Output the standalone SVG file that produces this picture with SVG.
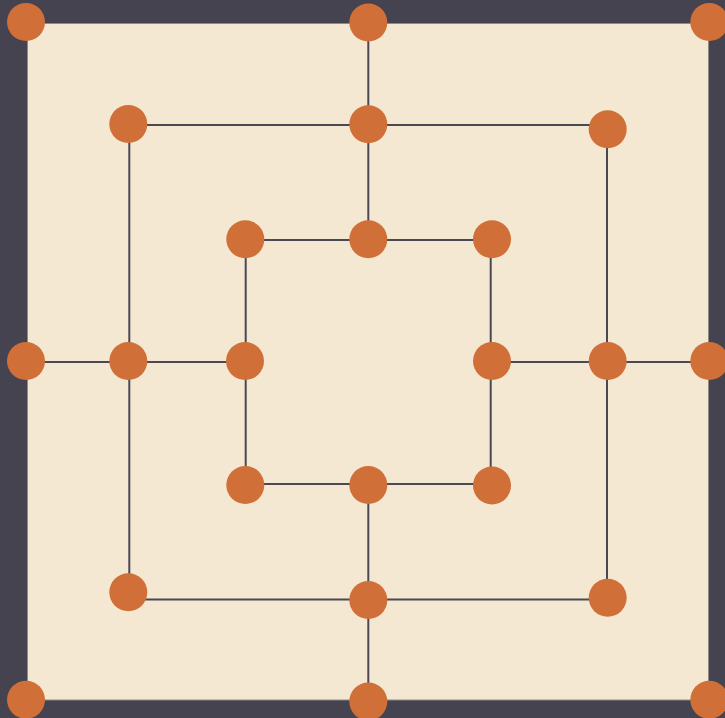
<svg xmlns="http://www.w3.org/2000/svg" width="725" height="718" viewBox="0 0 725 718">
<style>
.ln{stroke:#4b4853;stroke-width:2;fill:none}
.pt{fill:#d07038}
</style>
<rect x="0" y="0" width="725" height="718" fill="#45434f"/>
<rect id="board" x="27.5" y="23.5" width="681" height="676.5" fill="#f4e8d3" stroke="#8e8a88" stroke-width="1"/>
<g id="connectors">
<line class="ln" x1="368.3" y1="22" x2="368.3" y2="239"/>
<line class="ln" x1="368.3" y1="485" x2="368.3" y2="701"/>
<line class="ln" x1="128" y1="125" x2="607.5" y2="125"/>
<line class="ln" x1="128" y1="599.5" x2="607.5" y2="599.5"/>
<line class="ln" x1="129.3" y1="124" x2="129.3" y2="592"/>
<line class="ln" x1="607" y1="129" x2="607" y2="598"/>
<line class="ln" x1="26" y1="362" x2="245" y2="362"/>
<line class="ln" x1="492" y1="362" x2="709" y2="362"/>
<line class="ln" x1="245" y1="240" x2="492" y2="240"/>
<line class="ln" x1="245" y1="484" x2="492" y2="484"/>
<line class="ln" x1="245.7" y1="239" x2="245.7" y2="485"/>
<line class="ln" x1="490.7" y1="239" x2="490.7" y2="485"/>
</g>
<g id="n-o-tl"><circle class="pt" cx="26" cy="22" r="19"/></g>
<g id="n-o-tm"><circle class="pt" cx="368.3" cy="22.5" r="19"/></g>
<g id="n-o-tr"><circle class="pt" cx="709.3" cy="22" r="19"/></g>
<g id="n-o-ml"><circle class="pt" cx="26" cy="361" r="19"/></g>
<g id="n-o-mr"><circle class="pt" cx="709.3" cy="361" r="19"/></g>
<g id="n-o-bl"><circle class="pt" cx="26" cy="699.7" r="19"/></g>
<g id="n-o-bm"><circle class="pt" cx="368.3" cy="701.5" r="19"/></g>
<g id="n-o-br"><circle class="pt" cx="709.3" cy="699.7" r="19"/></g>
<g id="n-m-tl"><circle class="pt" cx="128.3" cy="124" r="19"/></g>
<g id="n-m-tm"><circle class="pt" cx="368.3" cy="124.3" r="19"/></g>
<g id="n-m-tr"><circle class="pt" cx="607.7" cy="129.3" r="19"/></g>
<g id="n-m-ml"><circle class="pt" cx="128.3" cy="361" r="19"/></g>
<g id="n-m-mr"><circle class="pt" cx="607.7" cy="361" r="19"/></g>
<g id="n-m-bl"><circle class="pt" cx="128.3" cy="592.3" r="19"/></g>
<g id="n-m-bm"><circle class="pt" cx="368.3" cy="600" r="19"/></g>
<g id="n-m-br"><circle class="pt" cx="607.7" cy="597.7" r="19"/></g>
<g id="n-i-tl"><circle class="pt" cx="245.3" cy="239.3" r="19"/></g>
<g id="n-i-tm"><circle class="pt" cx="368.3" cy="239.3" r="19"/></g>
<g id="n-i-tr"><circle class="pt" cx="492" cy="239.3" r="19"/></g>
<g id="n-i-ml"><circle class="pt" cx="245" cy="361" r="19"/></g>
<g id="n-i-mr"><circle class="pt" cx="492" cy="361" r="19"/></g>
<g id="n-i-bl"><circle class="pt" cx="245.3" cy="485" r="19"/></g>
<g id="n-i-bm"><circle class="pt" cx="368.3" cy="485" r="19"/></g>
<g id="n-i-br"><circle class="pt" cx="492" cy="485.5" r="19"/></g>
</svg>
